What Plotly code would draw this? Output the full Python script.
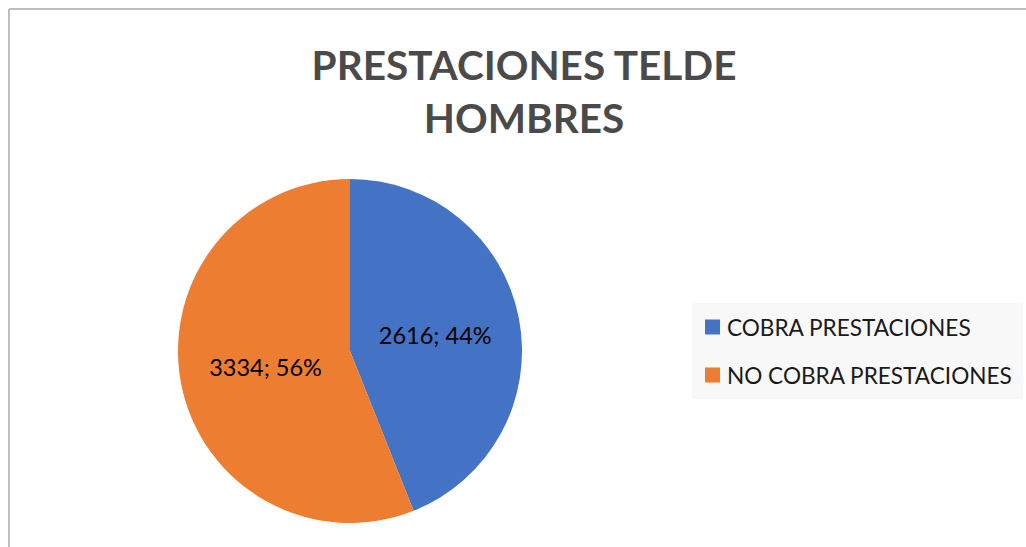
import plotly.graph_objects as go

W, H = 1026, 547

title_lines = ["PRESTACIONES TELDE", "HOMBRES"]
categories = ["COBRA PRESTACIONES", "NO COBRA PRESTACIONES"]
values = [2616, 3334]
colors = ["#4472C4", "#ED7D31"]

FONT = "Lato"

def px(x):
    return x / W

def py(y):
    return 1 - y / H

fig = go.Figure()
fig.add_trace(go.Pie(
    labels=categories,
    values=values,
    marker=dict(colors=colors, line=dict(width=0)),
    sort=False,
    direction="clockwise",
    rotation=0,
    texttemplate="%{value}; %{percent:.0%}",
    textposition="inside",
    insidetextorientation="horizontal",
    textfont=dict(family=FONT, size=23.5, color="#000000"),
    domain=dict(x=[px(178), px(522)], y=[py(523), py(179)]),
    showlegend=False,
    hoverinfo="label+value+percent",
))

shapes = [
    dict(type="line", xref="paper", yref="paper", x0=px(9), x1=px(1026), y0=py(9), y1=py(9),
         line=dict(color="#BFBFBF", width=2)),
    dict(type="line", xref="paper", yref="paper", x0=px(9), x1=px(9), y0=py(9), y1=py(547),
         line=dict(color="#BFBFBF", width=2)),
    dict(type="rect", xref="paper", yref="paper", x0=px(692), x1=px(1023), y0=py(399), y1=py(303),
         fillcolor="#F8F8F8", line=dict(width=0), layer="below"),
]
annotations = []
row_y = [327, 375]
for cat, col, yc in zip(categories, colors, row_y):
    shapes.append(dict(type="rect", xref="paper", yref="paper",
                       x0=px(705), x1=px(720), y0=py(yc + 7.5), y1=py(yc - 7.5),
                       fillcolor=col, line=dict(width=0)))
    annotations.append(dict(text=cat, xref="paper", yref="paper", x=px(725), y=py(yc),
                            xanchor="left", yanchor="middle", showarrow=False,
                            font=dict(family=FONT, size=22.6, color="#1A1A1A")))

fig.update_layout(
    width=W, height=H,
    margin=dict(l=0, r=0, t=0, b=0),
    paper_bgcolor="white",
    plot_bgcolor="white",
    title=dict(text="<b>" + "<br>".join(title_lines) + "</b>",
               x=px(524), xanchor="center", y=py(80), yanchor="middle",
               font=dict(family=FONT, size=40.5, color="#4A4A4A")),
    shapes=shapes,
    annotations=annotations,
)

fig.write_html("out.html", config={"displayModeBar": False},
               post_script="document.body.style.margin='0';document.body.style.overflow='hidden';")
